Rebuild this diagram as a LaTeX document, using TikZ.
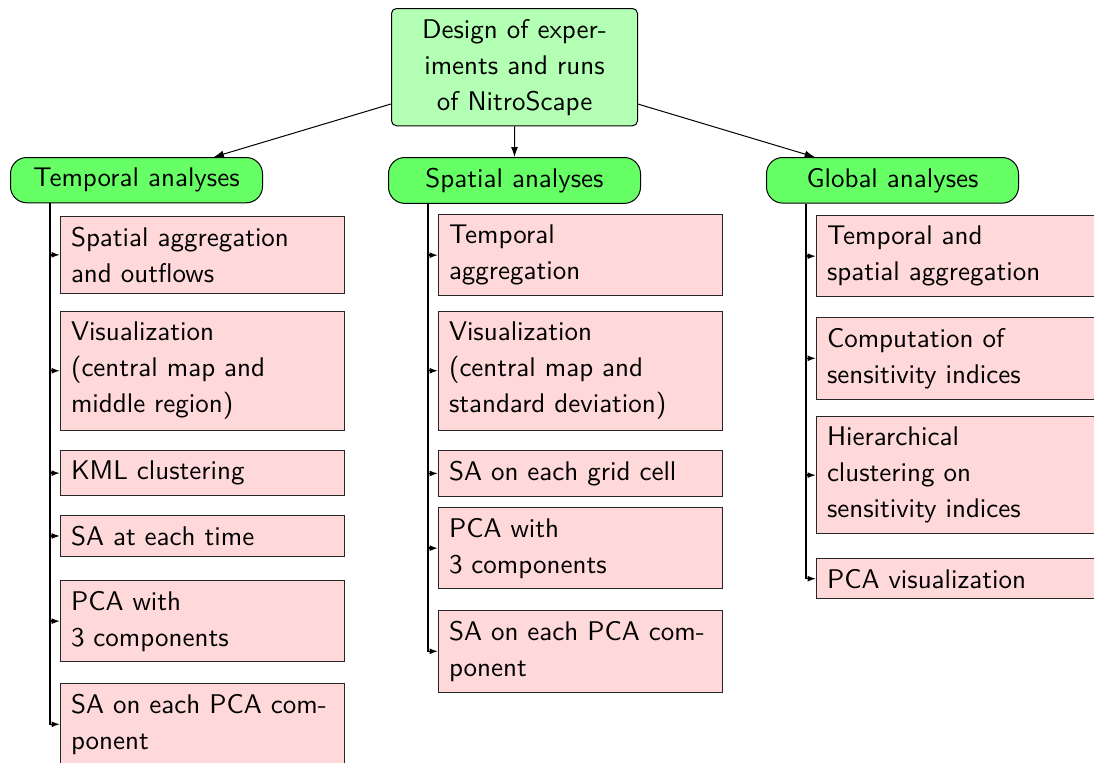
\documentclass[tikz,border=0pt]{standalone}
\usetikzlibrary{arrows.meta}

\definecolor{rootfill}{RGB}{179,255,179}
\definecolor{groupfill}{RGB}{102,255,102}
\definecolor{taskfill}{RGB}{255,217,217}

\tikzset{
  every node/.style={font=\sffamily\fontsize{10.8pt}{14.4pt}\selectfont, inner sep=4.2pt, line width=0.4pt},
  rootbox/.style={draw=black, fill=rootfill, rounded corners=2pt, text width=90pt, align=center, anchor=north west},
  groupbox/.style={draw=black, fill=groupfill, rounded corners=6.5pt, minimum width=100.8pt, align=center, anchor=north west},
  taskbox/.style={draw=black!85, fill=taskfill, text width=105.2pt, align=left, anchor=north west},
  toparrow/.style={-{Latex[length=4pt,width=2.8pt]}, line width=0.4pt},
  subarrow/.style={-{Latex[length=3.4pt,width=2.4pt]}, line width=0.55pt},
}

\begin{document}
\begin{tikzpicture}[x=0.4pt, y=-0.4pt]
  \useasboundingbox (0,0) rectangle (1094,762);
  \clip (0,0) rectangle (1094,762);

  % root
  \node[rootbox] (R) at (391,8) {Design of exper-\\iments and runs\\of NitroScape};

  % analysis groups
  \node[groupbox] (T) at (10,157) {Temporal analyses};
  \node[groupbox] (S) at (388,157) {Spatial analyses};
  \node[groupbox] (G) at (766,157) {Global analyses};

  \draw[toparrow] (R) -- (T);
  \draw[toparrow] (R) -- (S);
  \draw[toparrow] (R) -- (G);

  % temporal analyses
  \node[taskbox] (t1) at (60,216) {Spatial aggregation\\and outflows};
  \node[taskbox] (t2) at (60,311) {Visualization\\(central map and\\middle region)};
  \node[taskbox] (t3) at (60,450) {KML clustering};
  \node[taskbox] (t4) at (60,515) {SA at each time};
  \node[taskbox] (t5) at (60,580) {PCA with\\3 components};
  \node[taskbox] (t6) at (60,683) {SA on each PCA com-\\ponent};

  % spatial analyses
  \node[taskbox] (s1) at (438,214) {Temporal\\aggregation};
  \node[taskbox] (s2) at (438,311) {Visualization\\(central map and\\standard deviation)};
  \node[taskbox] (s3) at (438,450) {SA on each grid cell};
  \node[taskbox] (s4) at (438,507) {PCA with\\3 components};
  \node[taskbox] (s5) at (438,610) {SA on each PCA com-\\ponent};

  % global analyses
  \node[taskbox] (g1) at (816,215) {Temporal and\\spatial aggregation};
  \node[taskbox] (g2) at (816,317) {Computation of\\sensitivity indices};
  \node[taskbox] (g3) at (816,416) {Hierarchical\\clustering on\\sensitivity indices};
  \node[taskbox] (g4) at (816,558) {PCA visualization};

  % branch points under each group
  \coordinate (T0) at ([xshift=16pt]T.south west);
  \coordinate (S0) at ([xshift=16pt]S.south west);
  \coordinate (G0) at ([xshift=16pt]G.south west);

  \foreach \c in {t1,t2,t3,t4,t5,t6} \draw[subarrow] (T0) |- (\c.west);
  \foreach \c in {s1,s2,s3,s4,s5} \draw[subarrow] (S0) |- (\c.west);
  \foreach \c in {g1,g2,g3,g4} \draw[subarrow] (G0) |- (\c.west);
\end{tikzpicture}
\end{document}
